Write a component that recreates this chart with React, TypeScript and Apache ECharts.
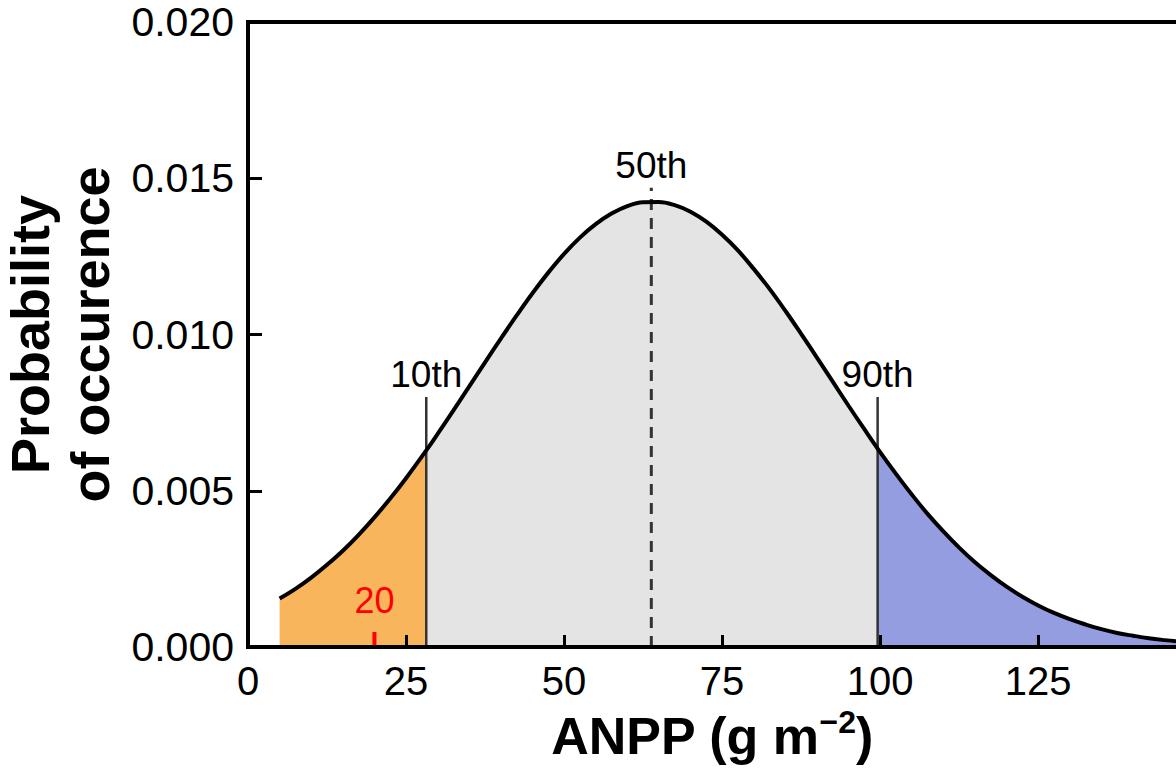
import React, { useEffect, useRef } from 'react';
import * as echarts from 'echarts';

// Curve (ANPP, probability of occurence)
const anppValues = [5, 7.5, 10, 12.5, 15, 17.5, 20, 22.5, 25, 28.2, 30, 32.5, 35, 37.5, 40, 42.5, 45, 47.5, 50, 52.5, 55, 57.5, 60, 62.5, 65, 67.5, 70, 72.5, 75, 77.5, 80, 82.5, 85, 87.5, 90, 92.5, 95, 97.5, 99.6, 102.5, 105, 107.5, 110, 112.5, 115, 117.5, 120, 122.5, 125, 127.5, 130, 132.5, 135, 137.5, 140, 142.5, 145, 147.5, 150];
const probValues = [0.00155, 0.00186, 0.00222, 0.00263, 0.00308, 0.00359, 0.00415, 0.00475, 0.0054, 0.00629, 0.00682, 0.00757, 0.00834, 0.00911, 0.00987, 0.01061, 0.01132, 0.01198, 0.01258, 0.0131, 0.01353, 0.01387, 0.01411, 0.01423, 0.01424, 0.01414, 0.01393, 0.01361, 0.01319, 0.01269, 0.0121, 0.01146, 0.01076, 0.01002, 0.00926, 0.00849, 0.00772, 0.00697, 0.00635, 0.00554, 0.00488, 0.00426, 0.0037, 0.00318, 0.00271, 0.0023, 0.00193, 0.00161, 0.00133, 0.00109, 0.00089, 0.00072, 0.00057, 0.00045, 0.00036, 0.00028, 0.00022, 0.00017, 0.00013];

// Percentile markers
const percentileLabels = ['10th', '50th', '90th'];
const percentileValues = [28.2, 63.8, 99.6];
const percentileTops = [0.008, 0.0147, 0.008];

// Observed value marker
const observedValue = 20;
const observedLabel = '20';
const observedTickTop = 0.00048;

// Axis ticks
const xTickValues = [0, 25, 50, 75, 100, 125];
const xTickMarks = [25, 50, 75, 100, 125];

const FONT = "'Liberation Sans', Arial, Helvetica, sans-serif";

export default function App() {
  const ref = useRef<HTMLDivElement>(null);

  useEffect(() => {
    document.body.style.margin = '0';
    if (!ref.current) return;
    const chart = echarts.init(ref.current, undefined, { renderer: 'svg' });

    const curve = anppValues.map((x, i) => [x, probValues[i]]);
    const lowCut = percentileValues[0];
    const highCut = percentileValues[2];
    const lowPart = curve.filter((p) => p[0] <= lowCut);
    const midPart = curve.filter((p) => p[0] >= lowCut && p[0] <= highCut);
    const highPart = curve.filter((p) => p[0] >= highCut);

    const areaSeries = (data: number[][], color: string) => ({
      type: 'line',
      data,
      smooth: 0.4,
      symbol: 'none',
      lineStyle: { width: 0 },
      areaStyle: { color, opacity: 1 },
      z: 1,
      silent: true,
    });

    const vLine = (x: number, top: number, color: string, width: number, type: any, z = 3) => ({
      type: 'line',
      data: [[x, 0], [x, top]],
      symbol: 'none',
      lineStyle: { color, width, type },
      z,
      silent: true,
    });

    const option: any = {
      animation: false,
      grid: { left: 248, top: 22, right: 0, bottom: 126, containLabel: false, outerBoundsMode: 'none' },
      xAxis: [
        {
          type: 'value',
          min: 0,
          max: 146.8,
          interval: 25,
          z: 10,
          name: '{b|ANPP (g m}{s|−2}{b|)}',
          nameLocation: 'middle',
          nameGap: 58,
          nameTextStyle: {
            rich: {
              b: { fontSize: 52, fontWeight: 'bold', fontFamily: FONT, color: '#000', lineHeight: 60 },
              s: { fontSize: 32, fontWeight: 'bold', fontFamily: FONT, color: '#000', verticalAlign: 'top', lineHeight: 54 },
            },
          },
          axisLine: { show: true, onZero: false, lineStyle: { color: '#000', width: 4, cap: 'square' } },
          axisTick: { show: true, inside: true, length: 12, customValues: xTickMarks, lineStyle: { color: '#000', width: 3 } },
          axisLabel: { show: true, customValues: xTickValues, margin: 14, fontSize: 40, fontFamily: FONT, color: '#000' },
          splitLine: { show: false },
        },
        {
          type: 'value',
          position: 'top',
          min: 0,
          max: 146.8,
          z: 10,
          axisLine: { show: true, onZero: false, lineStyle: { color: '#000', width: 4, cap: 'square' } },
          axisTick: { show: false },
          axisLabel: { show: false },
          splitLine: { show: false },
        },
      ],
      yAxis: {
        type: 'value',
        min: 0,
        max: 0.02,
        interval: 0.005,
        z: 10,
        name: 'Probability\nof occurence',
        nameLocation: 'middle',
        nameRotate: 90,
        nameGap: 121,
        nameTextStyle: { fontSize: 54, fontWeight: 'bold', fontFamily: FONT, color: '#000', lineHeight: 60 },
        axisLine: { show: true, onZero: false, lineStyle: { color: '#000', width: 4, cap: 'square' } },
        axisTick: { show: true, inside: true, length: 14, lineStyle: { color: '#000', width: 3 } },
        axisLabel: {
          margin: 14,
          fontSize: 41,
          fontFamily: FONT,
          color: '#000',
          formatter: (v: number) => v.toFixed(3),
        },
        splitLine: { show: false },
      },
      series: [
        areaSeries(lowPart, '#F8B55B'),
        areaSeries(midPart, '#E4E4E4'),
        areaSeries(highPart, '#959DE1'),
        vLine(percentileValues[0], percentileTops[0], '#333', 2.5, 'solid'),
        vLine(percentileValues[1], percentileTops[1], '#333', 3, [11, 8]),
        vLine(percentileValues[2], percentileTops[2], '#333', 2.5, 'solid'),
        vLine(observedValue, observedTickTop, '#FF0000', 4, 'solid', 6),
        {
          type: 'line',
          data: curve,
          smooth: 0.4,
          symbol: 'none',
          lineStyle: { color: '#000', width: 4 },
          z: 5,
          silent: true,
        },
        {
          type: 'scatter',
          symbolSize: 0,
          silent: true,
          z: 7,
          itemStyle: { opacity: 1 },
          data: percentileLabels.map((t, i) => ({
            value: [percentileValues[i], percentileTops[i]],
            label: {
              show: true,
              position: 'top',
              distance: 4,
              formatter: t,
              fontSize: 37,
              fontFamily: FONT,
              color: '#000',
            },
          })),
        },
        {
          type: 'scatter',
          symbolSize: 0,
          silent: true,
          z: 7,
          itemStyle: { opacity: 1 },
          data: [
            {
              value: [observedValue, observedTickTop],
              label: {
                show: true,
                position: 'top',
                distance: 14,
                formatter: observedLabel,
                fontSize: 36,
                fontFamily: FONT,
                color: '#FF0000',
              },
            },
          ],
        },
      ],
    };

    chart.setOption(option);
    return () => chart.dispose();
  }, []);

  return <div ref={ref} style={{ position: 'absolute', left: 0, top: 0, width: 1176, height: 773 }} />;
}
